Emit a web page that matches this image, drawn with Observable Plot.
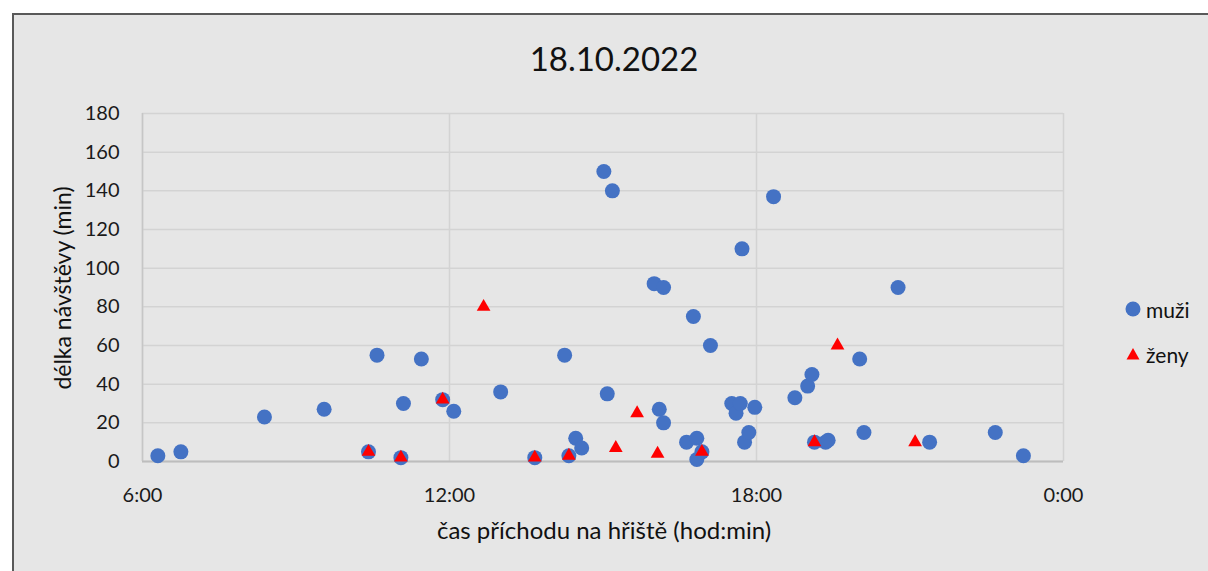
<!DOCTYPE html>
<html><head><meta charset="utf-8">
<script src="https://cdn.jsdelivr.net/npm/d3@7"></script>
<script src="https://cdn.jsdelivr.net/npm/@observablehq/plot@0.6"></script>
<style>
body{margin:0;width:1208px;height:571px;overflow:hidden;background:#fff;font-family:Lato,"Open Sans",sans-serif;position:relative}
#frame{position:absolute;left:12px;top:13px;width:1260px;height:620px;background:#e6e6e6;border:2px solid #595959;box-sizing:border-box}
#chart{position:absolute;left:0;top:0}
.t{position:absolute;color:#111;white-space:nowrap;line-height:1}
#title{left:614px;top:58px;transform:translate(-50%,-50%);font-size:33px}
#xtitle{left:604px;top:530px;transform:translate(-50%,-50%);font-size:24px}
#ytitle{left:62px;top:288px;transform:translate(-50%,-50%) rotate(-90deg);font-size:23px}
.leg{left:1146px;font-size:21px;transform:translateY(-50%)}
.mk{position:absolute}
</style></head><body>
<div id="frame"></div>
<div id="chart"></div>
<div class="t" id="title">18.10.2022</div>
<div class="t" id="xtitle">čas příchodu na hřiště (hod:min)</div>
<div class="t" id="ytitle">délka návštěvy (min)</div>
<svg class="mk" style="left:1124px;top:300px" width="18" height="18"><circle cx="9" cy="9" r="7.5" fill="#4472c4"/></svg>
<div class="t leg" style="top:309px">muži</div>
<svg class="mk" style="left:1124px;top:345px" width="18" height="18"><path d="M9,3 L15.5,14.5 L2.5,14.5 Z" fill="#ff0000"/></svg>
<div class="t leg" style="top:354px">ženy</div>
<script>
// --- data ---
const muziTime = ["6:18","6:45","8:23","9:33","10:25","10:35","11:03","11:06","11:27","11:52",
  "12:05","13:00","13:40","14:15","14:20","14:28","14:35","15:01","15:05","15:11",
  "16:00","16:11","16:06","16:11","16:38","16:46","16:50","16:50","16:56","17:06",
  "17:31","17:36","17:41","17:43","17:46","17:51","17:58","18:20","18:45","19:00",
  "19:05","19:08","19:21","19:24","20:01","20:06","20:46","21:23","22:40","23:13"];
const muziMin = [3,5,23,27,5,55,2,30,53,32,
  26,36,2,55,3,12,7,150,35,140,
  92,90,27,20,10,75,12,1,5,60,
  30,25,30,110,10,15,28,137,33,39,
  45,10,10,11,53,15,90,10,15,3];
const zenyTime = ["10:25","11:03","11:52","12:40","13:40","14:20","15:15","15:40","16:04","16:56","19:08","19:35","21:06"];
const zenyMin = [5,2,32,80,2,3,7,25,4,5,10,60,10];
const xTicks = [6,12,18,24];
const yTicks = [0,20,40,60,80,100,120,140,160,180];

const toH = s => { const [h,m] = s.split(":").map(Number); return h + m/60; };
const muzi = muziTime.map((t,i)=>({x:toH(t), y:muziMin[i]}));
const zeny = zenyTime.map((t,i)=>({x:toH(t), y:zenyMin[i]}));

const chart = Plot.plot({
  width:1208, height:571,
  marginLeft:142, marginRight:145, marginTop:113, marginBottom:110,
  style:{background:"transparent", fontFamily:"Lato, 'Open Sans', sans-serif", fontSize:"20px", color:"#1a1a1a"},
  x:{domain:[6,24]},
  y:{domain:[0,180]},
  marks:[
    Plot.gridY(yTicks,{stroke:"#d3d3d3", strokeOpacity:1, strokeWidth:1.5}),
    Plot.gridX(xTicks,{stroke:"#d3d3d3", strokeOpacity:1, strokeWidth:1.5}),
    Plot.ruleX([6],{stroke:"#c6c6c6", strokeWidth:1.5}),
    Plot.ruleY([0],{stroke:"#bdbdbd", strokeWidth:2}),
    Plot.axisY(yTicks,{tickSize:0, tickPadding:23, label:null, fontSize:20}),
    Plot.axisX(xTicks,{tickSize:0, tickPadding:26, label:null, fontSize:20, tickFormat:d=>`${d%24}:00`}),
    Plot.dot(muzi,{x:"x", y:"y", r:7.5, fill:"#4472c4", stroke:"none"}),
    Plot.dot(zeny,{x:"x", y:"y", r:5.1, symbol:"triangle", fill:"#ff0000", stroke:"none"})
  ]
});
document.getElementById("chart").appendChild(chart);
</script>
</body></html>
